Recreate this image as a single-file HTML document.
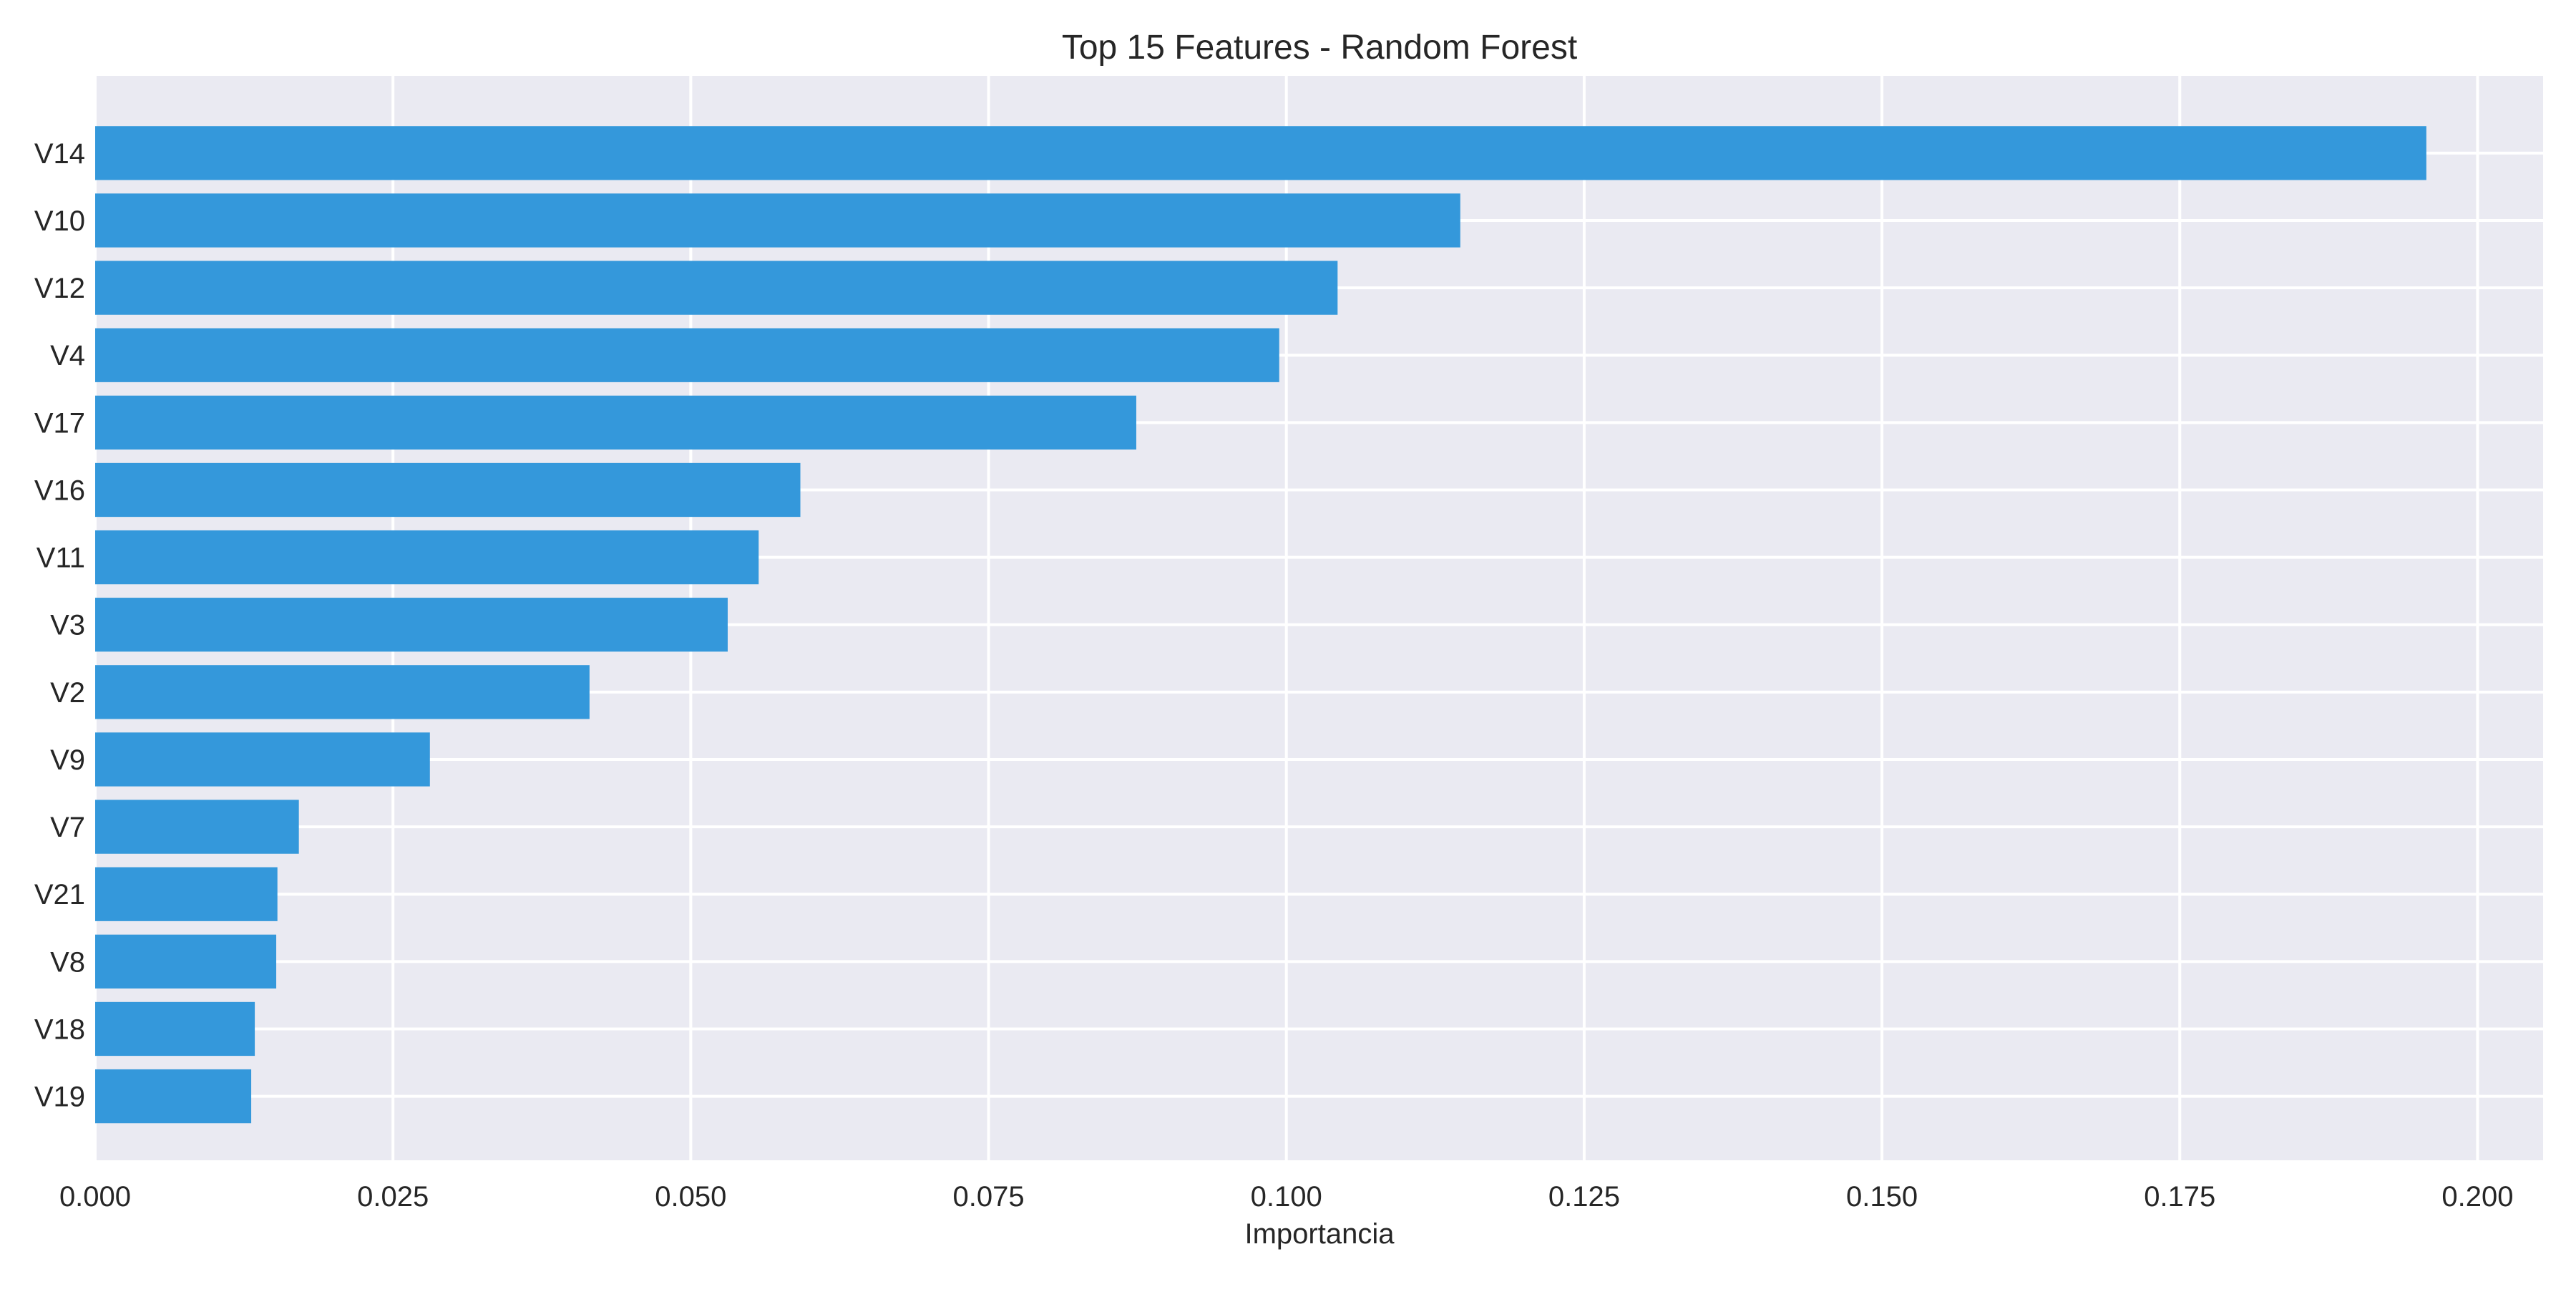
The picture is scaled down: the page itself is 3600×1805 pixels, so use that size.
<!DOCTYPE html>
<html><head><meta charset="utf-8"><style>
html,body{margin:0;padding:0;background:#fff;}
svg text{font-family:"Liberation Sans",sans-serif;fill:#262626;}
</style></head><body>
<svg id="chart" width="3600" height="1800" xmlns="http://www.w3.org/2000/svg">
<rect x="0" y="0" width="3600" height="1800" fill="#ffffff"/>
<text x="1844" y="82" font-size="48" text-anchor="middle">Top 15 Features - Random Forest</text>
<g id="plot"></g>
<text x="1844" y="1737" font-size="40" text-anchor="middle">Importancia</text>
</svg>
<script>
const categories = ["V14","V10","V12","V4","V17","V16","V11","V3","V2","V9","V7","V21","V8","V18","V19"];
const importances = [0.1957,0.1146,0.1043,0.0994,0.0874,0.0592,0.0557,0.0531,0.0415,0.0281,0.0171,0.0153,0.0152,0.0134,0.0131];
const xTicks = [0,0.025,0.05,0.075,0.1,0.125,0.15,0.175,0.2];
const xTickLabels = ["0.000","0.025","0.050","0.075","0.100","0.125","0.150","0.175","0.200"];

const L=133,R=3554,T=106,B=1621;
const xMax=0.2055;
function xs(v){return L+(v/xMax)*(R-L);}
const yMin=-1.146, yMax=categories.length-1+0.95;
function ys(i){return T+(i-yMin)/(yMax-yMin)*(B-T);}
const pitch=(B-T)/(yMax-yMin);
const NS="http://www.w3.org/2000/svg";
const g=document.getElementById('plot');
function mk(tag,attrs){const e=document.createElementNS(NS,tag);for(const k in attrs)e.setAttribute(k,attrs[k]);g.appendChild(e);return e;}

const bg=mk('rect',{x:L,y:T,width:R-L,height:B-T,fill:'#eaeaf2'});



xTicks.forEach((v,i)=>{
  const gl=mk('line',{x1:xs(v),x2:xs(v),y1:T,y2:B,stroke:'#ffffff','stroke-width':4});
  
  
  const t=mk('text',{x:xs(v),y:1685,'font-size':40,'text-anchor':'middle'});
  t.textContent=xTickLabels[i];
  
  
});
categories.forEach((c,i)=>{
  const gl=mk('line',{x1:L,x2:R,y1:ys(i),y2:ys(i),stroke:'#ffffff','stroke-width':4});
  
  
});
categories.forEach((c,i)=>{
  const h=pitch*0.8;
  const b=mk('rect',{x:xs(0),y:ys(i)-h/2,width:xs(importances[i])-xs(0),height:h,fill:'#3498db'});
  
  
  const t=mk('text',{x:119,y:ys(i)+14,'font-size':40,'text-anchor':'end'});
  t.textContent=c;
  
  
});
</script>
</body></html>
